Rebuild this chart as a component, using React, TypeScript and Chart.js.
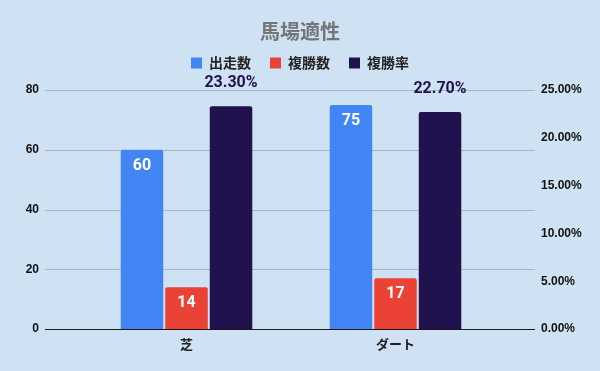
import React, { useEffect, useRef } from 'react';
import { Chart, registerables } from 'chart.js';

Chart.register(...registerables);

const title = '馬場適性';
const categories = ['芝', 'ダート'];
const seriesNames = ['出走数', '複勝数', '複勝率'];
const starts = [60, 75];
const placeCounts = [14, 17];
const placeRates = [23.3, 22.7];
const leftAxis = { min: 0, max: 80, step: 20 };
const rightAxis = { min: 0, max: 25, step: 5 };

const COLORS = ['#4285f4', '#ea4335', '#20124d'];
const BG = '#cfe2f3';
const CJK = "'Noto Sans CJK JP', 'Noto Sans', sans-serif";
const TICK = "'Liberation Sans', Arial, sans-serif";
const LABEL = "Roboto, 'Liberation Sans', sans-serif";

const legendSpacer = {
  id: 'legendSpacer',
  beforeLayout(chart: any) {
    const legend = chart.legend;
    if (legend && !legend.__patched) {
      const orig = legend.fit;
      legend.fit = function () {
        orig.call(this);
        this.height += 10;
      };
      legend.__patched = true;
    }
  },
};

const gridPlugin = {
  id: 'customGrid',
  beforeDatasetsDraw(chart: any) {
    const y = chart.scales.y;
    const ctx = chart.ctx;
    const x0 = chart.chartArea.left - 37;
    const x1 = chart.chartArea.right + 35;
    ctx.save();
    ctx.lineWidth = 1;
    y.ticks.forEach((t: any) => {
      if (t.value === 0) return;
      const py = Math.round(y.getPixelForValue(t.value)) + 0.5;
      ctx.strokeStyle = '#a6b5c2';
      ctx.beginPath();
      ctx.moveTo(x0, py);
      ctx.lineTo(x1, py);
      ctx.stroke();
    });
    ctx.restore();
  },
  afterDatasetsDraw(chart: any) {
    const y = chart.scales.y;
    const ctx = chart.ctx;
    const x0 = chart.chartArea.left - 37;
    const x1 = chart.chartArea.right + 35;
    const py = Math.round(y.getPixelForValue(0)) + 0.5;
    ctx.save();
    ctx.strokeStyle = '#1a1a1a';
    ctx.lineWidth = 1;
    ctx.beginPath();
    ctx.moveTo(x0, py);
    ctx.lineTo(x1, py);
    ctx.stroke();
    ctx.restore();
  },
};

const valueLabels = {
  id: 'valueLabels',
  afterDatasetsDraw(chart: any) {
    const ctx = chart.ctx;
    ctx.save();
    ctx.font = `bold 16px ${LABEL}`;
    ctx.textAlign = 'center';
    ctx.textBaseline = 'middle';
    chart.data.datasets.forEach((ds: any, di: number) => {
      const meta = chart.getDatasetMeta(di);
      meta.data.forEach((bar: any, i: number) => {
        const v = ds.data[i];
        if (di < 2) {
          ctx.fillStyle = '#ffffff';
          ctx.fillText(String(v), bar.x, bar.y + 16);
        } else {
          ctx.fillStyle = '#20124d';
          ctx.fillText(v.toFixed(2) + '%', bar.x, bar.y - 23);
        }
      });
    });
    ctx.restore();
  },
};

export default function App() {
  const ref = useRef<HTMLCanvasElement | null>(null);

  useEffect(() => {
    if (!ref.current) return;
    const chart = new Chart(ref.current, {
      type: 'bar',
      data: {
        labels: categories,
        datasets: [
          { label: seriesNames[0], data: starts, backgroundColor: COLORS[0], borderWidth: 0, borderRadius: 2, yAxisID: 'y' },
          { label: seriesNames[1], data: placeCounts, backgroundColor: COLORS[1], borderWidth: 0, borderRadius: 2, yAxisID: 'y' },
          { label: seriesNames[2], data: placeRates, backgroundColor: COLORS[2], borderWidth: 0, borderRadius: 2, yAxisID: 'y1' },
        ],
      },
      options: {
        responsive: false,
        devicePixelRatio: 1,
        animation: false,
        layout: { padding: { top: 0, left: 0, right: 0, bottom: 0 } },
        datasets: { bar: { categoryPercentage: 0.639, barPercentage: 0.955 } },
        plugins: {
          title: {
            display: true,
            text: title,
            color: '#757575',
            font: { family: CJK, size: 20, weight: 'bold', lineHeight: 1 },
            padding: { top: 21, bottom: -4 },
          },
          legend: {
            display: true,
            position: 'top',
            labels: {
              boxWidth: 11,
              boxHeight: 11,
              padding: 19,
              color: '#222222',
              font: { family: CJK, size: 14, weight: 'bold' },
            },
          },
          tooltip: { enabled: false },
        },
        scales: {
          x: {
            grid: { display: false, drawTicks: false, tickLength: 0 },
            border: { display: false },
            ticks: { color: '#222222', padding: 7, font: { family: CJK, size: 13, weight: 'bold' } },
            afterFit(scale: any) { scale.height = 42; },
          },
          y: {
            position: 'left',
            min: leftAxis.min,
            max: leftAxis.max,
            grid: { display: false, drawTicks: true, tickLength: 43 },
            border: { display: false },
            ticks: { stepSize: leftAxis.step, padding: 0, color: '#111111', font: { family: TICK, size: 12, weight: 'bold' } },
            afterFit(scale: any) { scale.width = 82; },
          },
          y1: {
            position: 'right',
            min: rightAxis.min,
            max: rightAxis.max,
            grid: { display: false, drawTicks: true, tickLength: 41 },
            border: { display: false },
            ticks: {
              stepSize: rightAxis.step,
              padding: 0,
              color: '#111111',
              font: { family: TICK, size: 12, weight: 'bold' },
              callback: (v: any) => Number(v).toFixed(2) + '%',
            },
            afterFit(scale: any) { scale.width = 100; },
          },
        },
      },
      plugins: [legendSpacer, gridPlugin, valueLabels],
    } as any);
    return () => chart.destroy();
  }, []);

  return (
    <div style={{ position: 'fixed', left: 0, top: 0, width: 600, height: 371, background: BG }}>
      <canvas ref={ref} width={600} height={371} style={{ display: 'block', background: BG }} />
    </div>
  );
}
